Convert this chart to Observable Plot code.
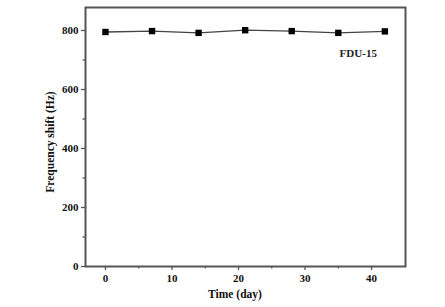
<!DOCTYPE html>
<html>
<head>
<meta charset="utf-8">
<script src="https://cdn.jsdelivr.net/npm/d3@7"></script>
<script src="https://cdn.jsdelivr.net/npm/@observablehq/plot@0.6"></script>
<style>
  body { margin: 0; background: #fff; }
  #chart svg { display: block; }
</style>
</head>
<body>
<div id="chart"></div>
<script>
const days = [0, 7, 14, 21, 28, 35, 42];
const shifts = [795, 798, 792, 801, 798, 792, 797];
const xMajorTicks = [0, 10, 20, 30, 40];
const xMinorTicks = [5, 15, 25, 35];
const yMajorTicks = [0, 200, 400, 600, 800];
const yMinorTicks = [100, 300, 500, 700];
const seriesLabel = "FDU-15";
const xLabel = "Time (day)";
const yLabel = "Frequency shift (Hz)";

const data = days.map((d, i) => ({day: d, shift: shifts[i]}));
const font = "'Liberation Serif', 'Times New Roman', serif";
const axisColor = "#555";

const chart = Plot.plot({
  width: 445,
  height: 307,
  marginLeft: 85,
  marginRight: 40,
  marginTop: 7,
  marginBottom: 41,
  style: {fontFamily: font, fontSize: "11px", fontWeight: "bold", color: "#111", background: "#fff"},
  x: {domain: [-3, 45.1]},
  y: {domain: [0, 878]},
  marks: [
    Plot.axisX({ticks: xMajorTicks, tickSize: 4, tickPadding: 4, stroke: axisColor, strokeWidth: 1.3, label: null, fontWeight: "bold", fill: "#111"}),
    Plot.axisX({ticks: xMinorTicks, tickSize: 2.5, text: null, stroke: axisColor, strokeWidth: 1.3, label: null}),
    Plot.axisY({ticks: yMajorTicks, tickSize: 4, tickPadding: 3, stroke: axisColor, strokeWidth: 1.3, label: null, fontWeight: "bold", fill: "#111"}),
    Plot.axisY({ticks: yMinorTicks, tickSize: 2.5, text: null, stroke: axisColor, strokeWidth: 1.3, label: null}),
    Plot.frame({stroke: axisColor, strokeWidth: 2}),
    Plot.line(data, {x: "day", y: "shift", stroke: "#444", strokeWidth: 1.3}),
    Plot.dot(data, {x: "day", y: "shift", symbol: "square", r: 3.6, fill: "#000", stroke: "none"}),
    Plot.text([seriesLabel], {x: 38, y: 722, text: d => d, fontSize: 11, fontWeight: "bold", fill: "#222", textAnchor: "middle"})
  ]
});

const svg = d3.select(chart);
svg.append("text")
  .attr("x", 235).attr("y", 298)
  .attr("text-anchor", "middle")
  .attr("font-family", font).attr("font-size", 11.5).attr("font-weight", "bold").attr("fill", "#111")
  .text(xLabel);
svg.append("text")
  .attr("transform", "translate(51,142) rotate(-90)")
  .attr("text-anchor", "middle").attr("dominant-baseline", "middle")
  .attr("font-family", font).attr("font-size", 11.5).attr("font-weight", "bold").attr("fill", "#111")
  .text(yLabel);

document.getElementById("chart").appendChild(chart);
</script>
</body>
</html>
